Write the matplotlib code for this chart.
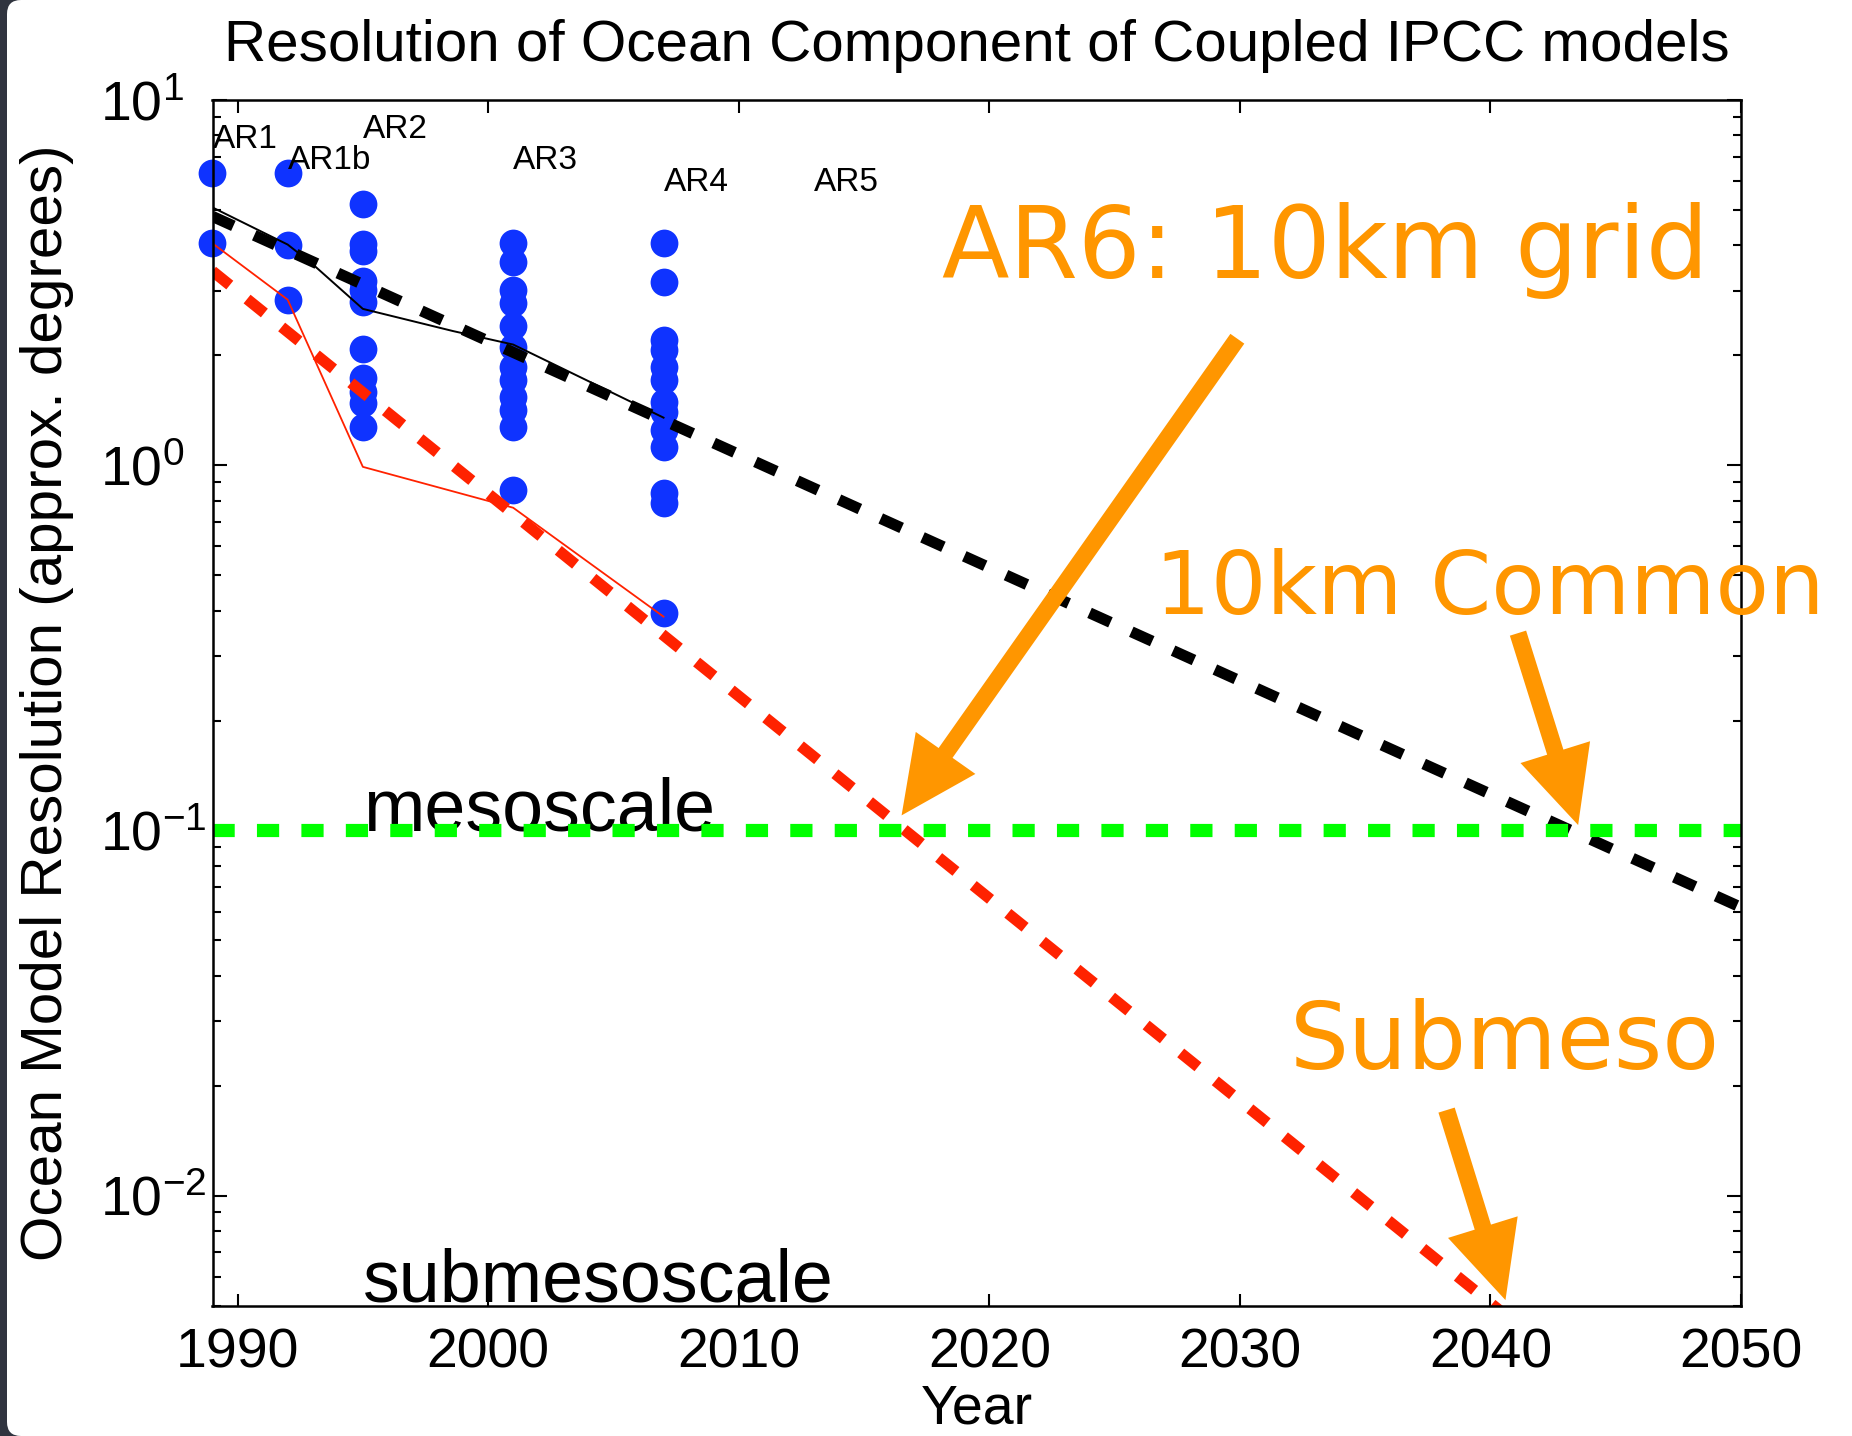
import matplotlib
matplotlib.use('Agg')
import matplotlib.pyplot as plt
from matplotlib.patches import FancyBboxPatch, FancyArrowPatch, ArrowStyle
from matplotlib.ticker import NullLocator, FixedLocator, LogLocator, NullFormatter

plt.rcParams['font.family'] = ['Liberation Sans', 'DejaVu Sans']
plt.rcParams['mathtext.fontset'] = 'custom'
plt.rcParams['mathtext.rm'] = 'Liberation Sans'
plt.rcParams['mathtext.it'] = 'Liberation Sans:italic'
plt.rcParams['mathtext.bf'] = 'Liberation Sans:bold'
plt.rcParams['lines.scale_dashes'] = False

# ---------------- data ----------------
title = "Resolution of Ocean Component of Coupled IPCC models"
xlabel = "Year"
ylabel = "Ocean Model Resolution (approx. degrees)"

ar_labels = ["AR1", "AR1b", "AR2", "AR3", "AR4", "AR5"]
ar_label_years = [1989, 1992, 1995, 2001, 2007, 2013]
ar_label_values = [7.40, 6.48, 7.89, 6.48, 5.64, 5.63]

ar1_res = [6.3, 4.05]
ar1b_res = [6.3, 4.0, 2.84]
ar2_res = [5.18, 4.03, 3.86, 3.2, 3.02, 2.79, 2.08, 1.73, 1.59, 1.48, 1.275]
ar3_res = [4.05, 3.61, 3.02, 2.78, 2.40, 2.11, 1.86, 1.71, 1.54, 1.42, 1.275, 0.855]
ar4_res = [4.05, 3.18, 2.20, 2.07, 1.86, 1.71, 1.49, 1.40, 1.25, 1.12, 0.837, 0.786, 0.393]
model_years = [1989, 1992, 1995, 2001, 2007]
model_res = [ar1_res, ar1b_res, ar2_res, ar3_res, ar4_res]

mean_years = [1989, 1992, 1993, 1995, 1998.6, 2001, 2007]
mean_res = [5.08, 4.02, 3.55, 2.68, 2.33, 2.14, 1.35]
min_years = [1989, 1992, 1995, 2001, 2007]
min_res = [4.05, 2.84, 0.99, 0.765, 0.385]

trend_years = [1989, 2050]
mean_trend = [4.8, 0.0616]
min_trend = [3.40, 0.00142]
mesoscale_level = 0.1

xticks = [1990, 2000, 2010, 2020, 2030, 2040, 2050]
yticks = [0.01, 0.1, 1, 10]
ytick_labels = [r'$10^{-2}$', r'$10^{-1}$', r'$10^{0}$', r'$10^{1}$']

# annotations (text, x-year, y-value, size)
orange_texts = [("AR6: 10km grid", 2018.1, 3.255, 71),
                ("10km Common", 2026.6, 0.391, 63),
                ("Submeso", 2032.0, 0.0222, 67)]
# arrows: (tail year, tail value, tip year, tip value)
orange_arrows = [(2029.9, 2.22, 2016.5, 0.110),
                 (2041.1, 0.347, 2043.5, 0.1035),
                 (2038.25, 0.01716, 2040.6, 0.00518)]

# colours
blue = '#0F33FF'
red = '#FF2200'
green = '#00FF00'
orange = '#FF9600'
dark = '#30343F'

W, H, DPI = 1852, 1436, 100
fig = plt.figure(figsize=(W / DPI, H / DPI), dpi=DPI)
fig.patch.set_facecolor(dark)
bg = FancyBboxPatch((7, 0), W + 60, H, boxstyle="round,pad=0,rounding_size=14",
                    transform=None, facecolor='white', edgecolor='none', zorder=-10)
fig.patches.append(bg)

ax = fig.add_axes([212.5 / W, 130.3 / H, 1528.5 / W, 1205.7 / H])
ax.set_yscale('log')
ax.set_xlim(1989, 2050)
ax.set_ylim(0.005, 10)

# blue dots
for yr, vals in zip(model_years, model_res):
    ax.plot([yr] * len(vals), vals, 'o', color=blue, markersize=20,
            markeredgewidth=0, clip_on=False, zorder=3)

# thin lines
ax.plot(mean_years, mean_res, '-', color='black', lw=1.4, zorder=4)
ax.plot(min_years, min_res, '-', color=red, lw=1.3, zorder=4)

# dashed trends
ax.plot(trend_years, mean_trend, color='black', lw=8, dashes=(16.5, 16.5),
        dash_capstyle='butt', zorder=5)
ax.plot(trend_years, min_trend, color=red, lw=8, dashes=(16, 16),
        dash_capstyle='butt', zorder=5)
ax.plot(trend_years, [mesoscale_level, mesoscale_level], color=green, lw=9.5,
        dashes=(16, 16), dash_capstyle='butt', zorder=6)

# scale texts
ax.text(1995, mesoscale_level, "mesoscale", fontsize=53, ha='left',
        va='baseline', zorder=5.5)
ax.text(1995, 0.00512, "submesoscale", fontsize=53, ha='left',
        va='baseline', zorder=5.5, clip_on=False)

for lab, yr, v in zip(ar_labels, ar_label_years, ar_label_values):
    ax.text(yr, v, lab, fontsize=24, ha='left', va='baseline', zorder=7)

# ticks
ax.xaxis.set_major_locator(FixedLocator(xticks))
ax.xaxis.set_minor_locator(NullLocator())
ax.set_xticklabels([str(t) for t in xticks])
ax.yaxis.set_major_locator(FixedLocator(yticks))
ax.set_yticklabels(ytick_labels)
ax.yaxis.set_minor_locator(LogLocator(base=10, subs=range(2, 10)))
ax.yaxis.set_minor_formatter(NullFormatter())
ax.tick_params(axis='both', which='both', direction='in', top=True, right=True,
               width=1.5, color='black')
ax.tick_params(axis='x', which='major', length=9, labelsize=40, pad=16)
ax.tick_params(axis='y', which='major', length=10, labelsize=40, pad=81)
ax.tick_params(axis='y', which='minor', length=6)
for lab in ax.get_yticklabels():
    lab.set_horizontalalignment('left')
for sp in ax.spines.values():
    sp.set_linewidth(1.8)
    sp.set_zorder(10)

ax.set_title(title, fontsize=42, y=1.0323, pad=0)
ax.set_xlabel(xlabel, fontsize=40)
ax.xaxis.set_label_coords(0.5, -0.0973)
ax.xaxis.label.set_va('baseline')
ax.set_ylabel(ylabel, fontsize=42)
ax.yaxis.set_label_coords(-0.108, 0.5)
ax.yaxis.label.set_va('center')

# orange annotations
for txt, x, y, fs in orange_texts:
    ax.text(x, y, txt, fontsize=fs, color=orange, ha='left', va='baseline',
            family=['DejaVu Sans'], clip_on=False, zorder=12)

style = ArrowStyle.Simple(head_length=1.1, head_width=1.05, tail_width=0.245)
for x0, y0, x1, y1 in orange_arrows:
    arr = FancyArrowPatch((x0, y0), (x1, y1), arrowstyle=style, mutation_scale=50,
                          color=orange, shrinkA=0, shrinkB=0, clip_on=False,
                          zorder=12, linewidth=0)
    ax.add_patch(arr)

fig.savefig('out.png', dpi=DPI, facecolor=fig.get_facecolor())
